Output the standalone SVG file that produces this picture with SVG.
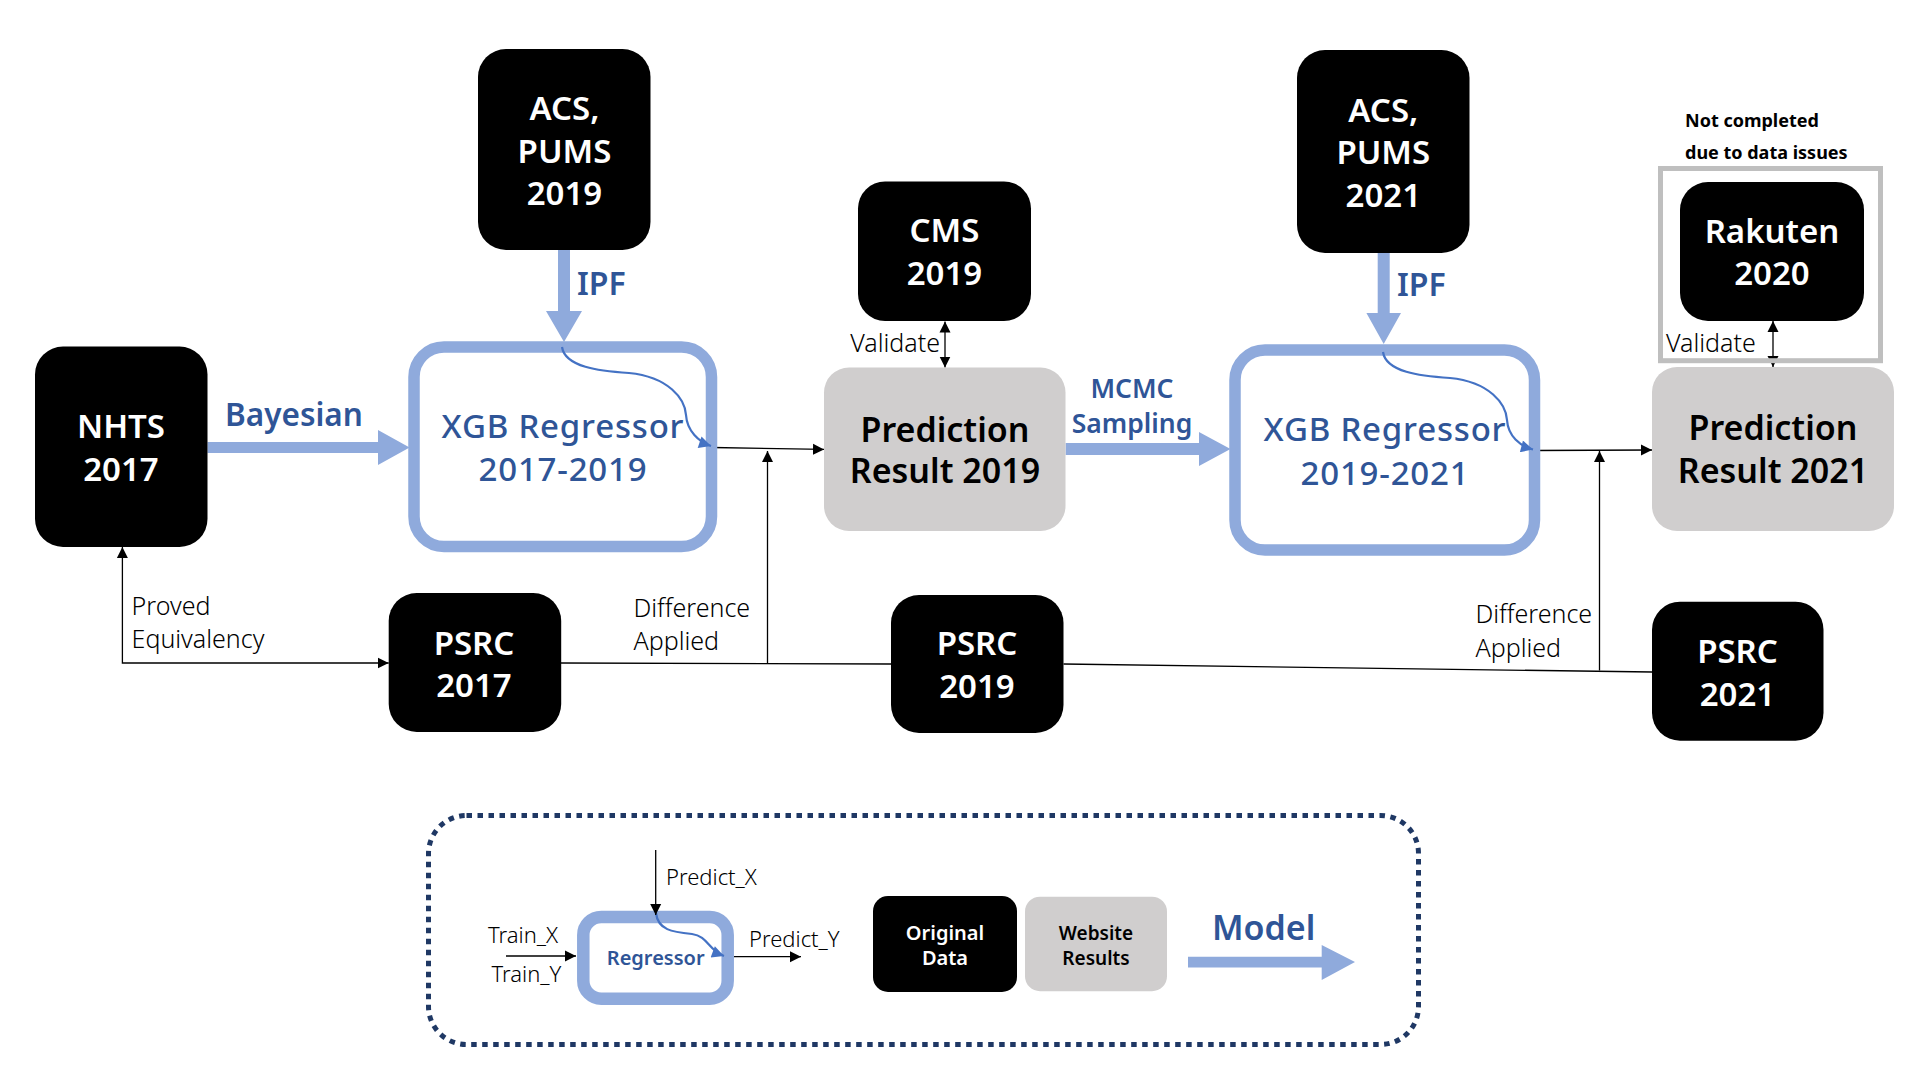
<svg xmlns="http://www.w3.org/2000/svg" width="1920" height="1080" viewBox="0 0 1920 1080">
<style>
  .blk { fill: #000000; }
  .gry { fill: #D0CECE; }
  .model { fill: none; stroke: #8FAADC; stroke-width: 11.5; }
  .big { fill: #8FAADC; }
  .wt { font-family: "Noto Sans", "Open Sans", sans-serif; font-weight: 600; font-size: 33px; fill: #FFFFFF; text-anchor: middle; }
  .bt { font-family: "Noto Sans", "Open Sans", sans-serif; font-weight: 600; font-size: 34px; fill: #000000; text-anchor: middle; }
  .blue { font-family: "Noto Sans", "Open Sans", sans-serif; font-weight: 500; font-size: 33px; fill: #2F5597; text-anchor: middle; letter-spacing: 0.8px; }
  .lbl { font-family: "Noto Sans", "Open Sans", sans-serif; font-weight: 600; fill: #2F5597; }
  .thin { font-family: "Noto Sans", "Open Sans", sans-serif; font-weight: 300; font-size: 25px; fill: #000000; }
  .sm { font-family: "Noto Sans", "Open Sans", sans-serif; font-weight: 300; font-size: 22px; fill: #000000; }
  .ln { fill: none; stroke: #000000; stroke-width: 1.3; }
  .curve { fill: none; stroke: #4472C4; stroke-width: 2.2; }
  .lg { font-family: "Noto Sans", "Open Sans", sans-serif; font-weight: 600; text-anchor: middle; }
</style>
<defs>
  <marker id="ab" viewBox="0 0 10 10" refX="10" refY="5" markerWidth="11" markerHeight="12" markerUnits="userSpaceOnUse" orient="auto-start-reverse">
    <path d="M0,0 L10,5 L0,10 z" fill="#000000"/>
  </marker>
  <marker id="abl" viewBox="0 0 10 10" refX="10" refY="5" markerWidth="13" markerHeight="12" markerUnits="userSpaceOnUse" orient="auto">
    <path d="M0,0 L10,5 L0,10 z" fill="#4472C4"/>
  </marker>
</defs>

<rect width="1920" height="1080" fill="#FFFFFF"/>

<!-- connectors -->
<g id="connectors">
  <polygon id="arrow-bayesian" class="big" points="207.5,442 378,442 378,430 409.6,447.5 378,465 378,453 207.5,453"/>
  <polygon id="arrow-ipf1" class="big" points="558,250 570,250 570,311 582,311 564,342 546,311 558,311"/>
  <polygon id="arrow-mcmc" class="big" points="1065.6,443 1199,443 1199,432 1230.5,449 1199,466 1199,455 1065.6,455"/>
  <polygon id="arrow-ipf2" class="big" points="1377.7,253 1389.7,253 1389.7,313 1401,313 1383.7,344 1366.4,313 1377.7,313"/>
  <path class="ln" d="M122.4,547 V663 H388.7" marker-start="url(#ab)" marker-end="url(#ab)"/>
  <path class="ln" d="M712,447.5 L824,449.4" marker-end="url(#ab)"/>
  <path class="ln" d="M561,663 L891,664"/>
  <path class="ln" d="M767.5,664 V451" marker-end="url(#ab)"/>
  <path class="ln" d="M1063.5,664 L1652,672"/>
  <path class="ln" d="M1599.5,670.5 V451" marker-end="url(#ab)"/>
  <path class="ln" d="M1534,450.5 L1652,450" marker-end="url(#ab)"/>
  <path class="ln" d="M945,321.5 V367.5" marker-start="url(#ab)" marker-end="url(#ab)"/>
  <path class="ln" d="M1773,321 V367" marker-start="url(#ab)" marker-end="url(#ab)"/>
  <text class="lbl" x="225" y="426" font-size="31.5">Bayesian</text>
  <text class="lbl" x="577" y="295" font-size="32">IPF</text>
  <text class="lbl" x="1397" y="296" font-size="32">IPF</text>
  <text class="lbl" x="1132" y="398" font-size="26.5" text-anchor="middle">MCMC</text>
  <text class="lbl" x="1132" y="433" font-size="26.5" text-anchor="middle">Sampling</text>
  <text class="thin" x="940" y="352" text-anchor="end">Validate</text>
  <text class="thin" x="1666" y="352">Validate</text>
  <text class="thin" x="131.6" y="615">Proved</text>
  <text class="thin" x="131.6" y="648">Equivalency</text>
  <text class="thin" x="633.5" y="617">Difference</text>
  <text class="thin" x="633.5" y="650">Applied</text>
  <text class="thin" x="1475.5" y="623">Difference</text>
  <text class="thin" x="1475.5" y="657">Applied</text>
</g>

<!-- nodes -->
<g id="acs2019">
  <rect class="blk" x="478" y="49" width="172.5" height="201" rx="28"/>
  <text class="wt" x="564.5" y="120">ACS,</text>
  <text class="wt" x="564.5" y="162.6">PUMS</text>
  <text class="wt" x="564.5" y="205">2019</text>
</g>
<g id="nhts2017">
  <rect class="blk" x="35" y="346.5" width="172.5" height="200.5" rx="28"/>
  <text class="wt" x="121" y="438">NHTS</text>
  <text class="wt" x="121" y="481">2017</text>
</g>
<g id="xgb1">
  <rect class="model" x="414" y="347" width="297.5" height="199.5" rx="30"/>
  <path class="curve" d="M562,347 C565,367 599,371 629,373 C669,377 685,399 686,415 C687,431 699,442 711,446" marker-end="url(#abl)"/>
  <text class="blue" x="563" y="438">XGB Regressor</text>
  <text class="blue" x="563" y="481">2017-2019</text>
</g>
<g id="cms2019">
  <rect class="blk" x="858" y="181.5" width="173" height="139.5" rx="27"/>
  <text class="wt" x="944.5" y="242">CMS</text>
  <text class="wt" x="944.5" y="285">2019</text>
</g>
<g id="pred2019">
  <rect class="gry" x="824" y="367.5" width="241.5" height="163.5" rx="25"/>
  <text class="bt" x="945" y="441.5">Prediction</text>
  <text class="bt" x="945" y="483">Result 2019</text>
</g>
<g id="acs2021">
  <rect class="blk" x="1297" y="50" width="172.5" height="203" rx="28"/>
  <text class="wt" x="1383.3" y="121.5">ACS,</text>
  <text class="wt" x="1383.3" y="164">PUMS</text>
  <text class="wt" x="1383.3" y="206.5">2021</text>
</g>
<g id="xgb2">
  <rect class="model" x="1235" y="350" width="299.5" height="200" rx="30"/>
  <path class="curve" d="M1383,352 C1386,372 1420,376 1450,378 C1490,382 1506,404 1507,420 C1508,436 1520,446 1533,449.5" marker-end="url(#abl)"/>
  <text class="blue" x="1385" y="441">XGB Regressor</text>
  <text class="blue" x="1385" y="485">2019-2021</text>
</g>
<g id="rakuten2020">
  <rect class="blk" x="1680" y="182" width="184" height="139" rx="28"/>
  <text class="wt" x="1772" y="243">Rakuten</text>
  <text class="wt" x="1772" y="285">2020</text>
  <rect x="1660.5" y="168.5" width="220" height="192.2" fill="none" stroke="#BFBFBF" stroke-width="5"/>
  <text x="1685" y="126.7" font-family="Noto Sans, Open Sans, sans-serif" font-weight="bold" font-size="18" fill="#000000">Not completed</text>
  <text x="1685" y="159" font-family="Noto Sans, Open Sans, sans-serif" font-weight="bold" font-size="18" fill="#000000">due to data issues</text>
</g>
<g id="pred2021">
  <rect class="gry" x="1652" y="367" width="242" height="164" rx="25"/>
  <text class="bt" x="1773" y="440">Prediction</text>
  <text class="bt" x="1773" y="483">Result 2021</text>
</g>
<g id="psrc2017">
  <rect class="blk" x="388.7" y="593" width="172.5" height="139" rx="28"/>
  <text class="wt" x="474" y="655">PSRC</text>
  <text class="wt" x="474" y="697">2017</text>
</g>
<g id="psrc2019">
  <rect class="blk" x="891" y="595" width="172.5" height="138" rx="28"/>
  <text class="wt" x="977" y="655">PSRC</text>
  <text class="wt" x="977" y="698">2019</text>
</g>
<g id="psrc2021">
  <rect class="blk" x="1652" y="601.7" width="171.5" height="139" rx="28"/>
  <text class="wt" x="1737.5" y="662.7">PSRC</text>
  <text class="wt" x="1737.5" y="706">2021</text>
</g>

<!-- legend -->
<g id="legend">
  <rect x="428.5" y="815.5" width="990" height="229" rx="38" fill="none" stroke="#1F3864" stroke-width="5" stroke-dasharray="5.5 5.5"/>
  <g id="legend-regressor">
    <rect x="583.3" y="917" width="144.4" height="81.7" rx="18" fill="none" stroke="#8FAADC" stroke-width="12.5"/>
    <path class="curve" d="M656,913 C658,930 672,932 692,934 C708,936 708,950 724,956" stroke-width="1.6" marker-end="url(#abl)"/>
    <text class="lg" x="655.7" y="965" font-size="20" fill="#2F5597">Regressor</text>
  </g>
  <path class="ln" d="M506,956 H576" marker-end="url(#ab)"/>
  <path class="ln" d="M655.7,850 V915" marker-end="url(#ab)"/>
  <path class="ln" d="M734,956.7 H801" marker-end="url(#ab)"/>
  <text class="sm" x="666" y="885">Predict_X</text>
  <text class="sm" x="488" y="943.3">Train_X</text>
  <text class="sm" x="491.5" y="981.7">Train_Y</text>
  <text class="sm" x="749" y="946.7">Predict_Y</text>
  <g id="legend-original">
    <rect class="blk" x="873" y="896" width="144" height="96" rx="15"/>
    <text class="lg" x="945" y="940" font-size="20" fill="#FFFFFF">Original</text>
    <text class="lg" x="945" y="965" font-size="20" fill="#FFFFFF">Data</text>
  </g>
  <g id="legend-website">
    <rect class="gry" x="1025" y="896.7" width="142" height="94.5" rx="15"/>
    <text class="lg" x="1096" y="940" font-size="19" fill="#000000">Website</text>
    <text class="lg" x="1096" y="965" font-size="19" fill="#000000">Results</text>
  </g>
  <g id="legend-model">
    <text class="lbl" x="1212" y="940" font-size="34">Model</text>
    <polygon class="big" points="1188,956.7 1321.7,956.7 1321.7,945 1355,962 1321.7,980 1321.7,967.5 1188,967.5"/>
  </g>
</g>
</svg>
